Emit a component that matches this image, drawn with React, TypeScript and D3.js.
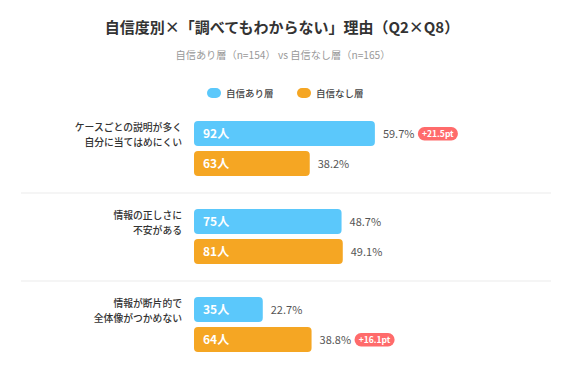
import React from 'react'
import * as d3 from 'd3'

// data
const categories = [
  ['ケースごとの説明が多く', '自分に当てはめにくい'],
  ['情報の正しさに', '不安がある'],
  ['情報が断片的で', '全体像がつかめない'],
]
const seriesNames = ['自信あり層', '自信なし層']
const confidentCounts = [92, 75, 35]
const confidentPct = [59.7, 48.7, 22.7]
const unconfidentCounts = [63, 81, 64]
const unconfidentPct = [38.2, 49.1, 38.8]
// difference badge: [series index, label]
const badges: ([number, string] | null)[] = [[0, '+21.5pt'], null, [1, '+16.1pt']]

const W = 568
const H = 385
const COLORS = ['#5bc8fb', '#f5a623']
const FONT = '"Noto Sans CJK JP", "Noto Sans", sans-serif'

const App = () => {
  const x = d3.scaleLinear().domain([0, 100]).range([194, 497])
  const rowY = d3.scaleLinear().domain([0, 1]).range([121, 209])
  const barH = 25
  const barGap = 30

  const series = [
    { counts: confidentCounts, pct: confidentPct },
    { counts: unconfidentCounts, pct: unconfidentPct },
  ]

  return (
    <svg width={W} height={H} style={{ position: 'absolute', left: 0, top: 0, fontFamily: FONT }}>
      <rect width={W} height={H} fill="#fff" />
      <text x={282} y={33} textAnchor="middle" fontSize={15} fontWeight="bold" fill="#333">
        自信度別×「調べてもわからない」理由（Q2×Q8）
      </text>
      <text x={283} y={59} textAnchor="middle" fontSize={10.2} fill="#999">
        自信あり層（n=154） vs 自信なし層（n=165）
      </text>

      {/* legend */}
      {seriesNames.map((name, i) => (
        <g key={name} transform={`translate(${207 + i * 90},88)`}>
          <rect width={14} height={10} rx={5} fill={COLORS[i]} />
          <text x={19} y={9} fontSize={9.5} fontWeight={500} fill="#444">{name}</text>
        </g>
      ))}

      {categories.map((lines, gi) => {
        const top = rowY(gi)
        return (
          <g key={gi}>
            {gi > 0 && (
              <line x1={21} x2={551} y1={top - 16} y2={top - 16} stroke="#ebebeb" strokeWidth={1} />
            )}
            {lines.map((ln, li) => (
              <text key={li} x={182} y={top + 10 + li * 14.5} textAnchor="end" fontSize={9.8} fontWeight={500} fill="#333">
                {ln}
              </text>
            ))}
            {series.map((s, si) => {
              const y = top + si * barGap
              const x1 = x(s.pct[gi])
              const pctText = `${s.pct[gi].toFixed(1)}%`
              const badge = badges[gi]
              const badgeX = x1 + 8 + 35
              return (
                <g key={si}>
                  <rect x={x(0)} y={y} width={x1 - x(0)} height={barH} rx={4} fill={COLORS[si]} />
                  <text x={x(0) + 9} y={y + barH / 2 + 4.5} fontSize={12} fontWeight="bold" fill="#fff">
                    {s.counts[gi]}人
                  </text>
                  <text x={x1 + 8} y={y + barH / 2 + 4} fontSize={11} fill="#555">
                    {pctText}
                  </text>
                  {badge && badge[0] === si && (
                    <g>
                      <rect x={badgeX} y={y + 6} width={40} height={13.5} rx={6.5} fill="#ff6b6b" />
                      <text x={badgeX + 20} y={y + 15.8} textAnchor="middle" fontSize={8.5} fontWeight="bold" fill="#fff">
                        {badge[1]}
                      </text>
                    </g>
                  )}
                </g>
              )
            })}
          </g>
        )
      })}
    </svg>
  )
}

export default App
